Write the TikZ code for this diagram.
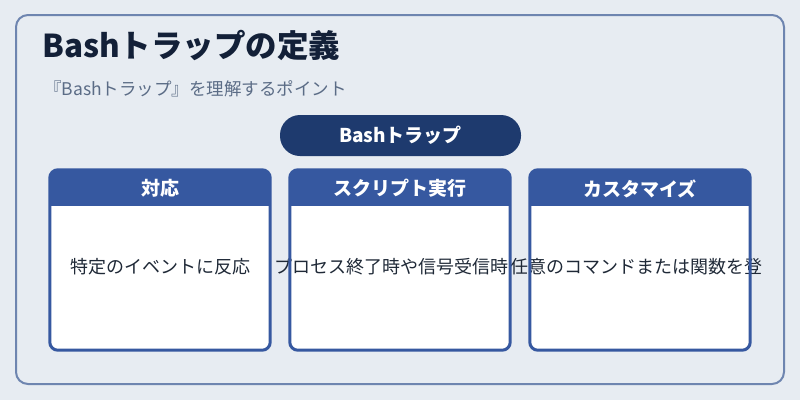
\documentclass[tikz,border=0pt]{standalone}
\usepackage{fontspec}
\setmainfont{Noto Sans CJK JP}
\newfontfamily\jp{Noto Sans CJK JP}
\definecolor{bgc}{HTML}{E7ECF2}
\definecolor{framec}{HTML}{6E85B0}
\definecolor{headc}{HTML}{3658A0}
\definecolor{pillc}{HTML}{1E3A6E}
\definecolor{titlec}{HTML}{132038}
\definecolor{subc}{HTML}{5B6C86}
\definecolor{bodyc}{HTML}{1F2937}
\tikzset{
  card/.style={fill=white, rounded corners=8pt, minimum width=220pt, minimum height=180pt, inner sep=0pt},
  cardline/.style={draw=headc, line width=3pt, rounded corners=8pt},
  headtext/.style={text=white, font=\jp\bfseries\fontsize{19}{22}\selectfont, inner sep=0pt},
  bodytext/.style={text=bodyc, font=\jp\fontsize{18}{21}\selectfont, inner sep=0pt},
}
\newcommand{\cardhead}[1]{%
  \begin{scope}
    \clip[rounded corners=8pt] (#1.north west) rectangle (#1.south east);
    \fill[headc] (#1.north west) rectangle ([yshift=-36.5pt]#1.north east);
  \end{scope}}
\newcommand{\cardborder}[1]{%
  \draw[cardline] (#1.north west) rectangle (#1.south east);}
\begin{document}
\begin{tikzpicture}[x=1pt,y=-1pt]
\useasboundingbox (0,0) rectangle (800,400);
\fill[bgc] (0,0) rectangle (800,400);
\node[draw=framec, line width=2pt, rounded corners=12pt, minimum width=768pt, minimum height=369pt, inner sep=0pt] (frame) at (400,199.5) {};
\node[anchor=base west, text=titlec, font=\jp\bfseries\fontsize{31.5}{36}\selectfont, inner sep=0pt] (title) at (42,57) {Bashトラップの定義};
\node[anchor=base west, text=subc, font=\jp\fontsize{17.5}{20}\selectfont, inner sep=0pt] (sub) at (44,95) {『Bashトラップ』を理解するポイント};
\node[fill=pillc, rounded corners=20pt, minimum width=241pt, minimum height=41pt, inner sep=0pt] (pill) at (400.5,135.5) {};
\node[text=white, font=\jp\bfseries\fontsize{19}{22}\selectfont, inner sep=0pt] (pillt) at (pill.center) {Bashトラップ};
% card bodies and headers
\node[card] (c1) at (160,260) {};
\cardhead{c1}
\node[card] (c2) at (400,260) {};
\cardhead{c2}
\node[card] (c3) at (640,260) {};
\cardhead{c3}
% header texts
\node[headtext] (h1) at (160,188.5) {対応};
\node[headtext] (h2) at (400,188.5) {スクリプト実行};
\node[headtext] (h3) at (640,188.5) {カスタマイズ};
% body texts
\node[bodytext] (t1) at (160,267) {特定のイベントに反応};
\node[bodytext, anchor=west] (t2) at (274.5,267) {プロセス終了時や信号受信時};
\node[bodytext, anchor=west] (t3) at (510,267) {任意のコマンドまたは関数を登};
% borders on top
\cardborder{c1}
\cardborder{c2}
\cardborder{c3}
\end{tikzpicture}
\end{document}
